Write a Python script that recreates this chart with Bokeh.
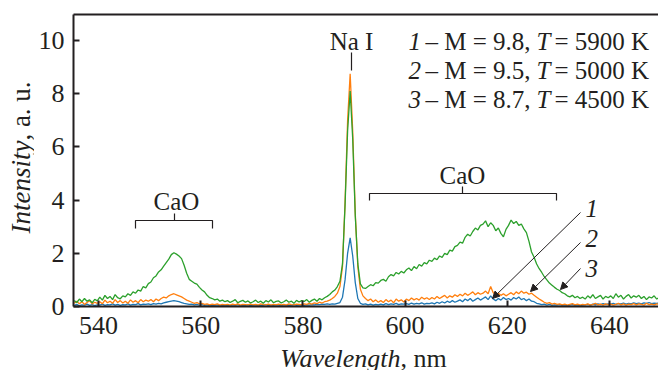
import math
import numpy as np
from bokeh.plotting import figure
from bokeh.layouts import row, column
from bokeh.models import Label, Arrow, NormalHead, Range1d, FixedTicker, LinearAxis
from bokeh.embed import file_html
from bokeh.resources import INLINE

# ---------------- data ----------------
wavelength = np.round(np.arange(535.25, 650.0, 0.5), 2)  # nm, 230 points

# series 1 (blue): M = 9.8, T = 5900 K
intensity_1 = [
    0.04, 0.08, 0.03, 0.06, 0.05, 0.09, 0.04, 0.07, 0.03, 0.06,
    0.05, 0.09, 0.04, 0.07, 0.06, 0.10, 0.05, 0.08, 0.04, 0.07,
    0.06, 0.10, 0.05, 0.08, 0.07, 0.11, 0.06, 0.09, 0.08, 0.10,
    0.07, 0.11, 0.09, 0.12, 0.10, 0.14, 0.16, 0.18, 0.20, 0.22,
    0.20, 0.18, 0.15, 0.12, 0.10, 0.08, 0.09, 0.06, 0.08, 0.05,
    0.07, 0.04, 0.06, 0.03, 0.05, 0.04, 0.06, 0.03, 0.05, 0.04,
    0.05, 0.03, 0.06, 0.04, 0.07, 0.03, 0.05, 0.04, 0.06, 0.03,
    0.04, 0.06, 0.03, 0.05, 0.04, 0.07, 0.03, 0.05, 0.04, 0.06,
    0.05, 0.03, 0.06, 0.04, 0.05, 0.03, 0.07, 0.04, 0.05, 0.06,
    0.04, 0.06, 0.05, 0.07, 0.06, 0.08, 0.07, 0.09, 0.08, 0.10,
    0.08, 0.10, 0.09, 0.12, 0.15, 0.35, 1.00, 2.00, 2.58, 1.90,
    0.90, 0.30, 0.12, 0.08, 0.10, 0.06, 0.09, 0.05, 0.08, 0.06,
    0.09, 0.06, 0.11, 0.07, 0.10, 0.08, 0.12, 0.07, 0.10, 0.09,
    0.11, 0.08, 0.13, 0.09, 0.12, 0.10, 0.14, 0.09, 0.12, 0.11,
    0.14, 0.10, 0.16, 0.12, 0.18, 0.13, 0.20, 0.15, 0.22, 0.16,
    0.20, 0.25, 0.18, 0.28, 0.22, 0.30, 0.20, 0.26, 0.32, 0.24,
    0.30, 0.36, 0.26, 0.40, 0.28, 0.22, 0.30, 0.24, 0.34, 0.26,
    0.30, 0.24, 0.34, 0.28, 0.36, 0.26, 0.30, 0.22, 0.28, 0.20,
    0.18, 0.12, 0.10, 0.07, 0.09, 0.05, 0.08, 0.04, 0.06, 0.05,
    0.07, 0.04, 0.06, 0.03, 0.05, 0.07, 0.04, 0.06, 0.03, 0.05,
    0.06, 0.08, 0.05, 0.09, 0.06, 0.10, 0.07, 0.11, 0.08, 0.10,
    0.09, 0.12, 0.08, 0.11, 0.10, 0.13, 0.09, 0.12, 0.10, 0.14,
    0.11, 0.13, 0.10, 0.14, 0.12, 0.15, 0.11, 0.13, 0.12, 0.14,
]

# series 2 (orange): M = 9.5, T = 5000 K
intensity_2 = [
    0.12, 0.20, 0.10, 0.18, 0.08, 0.15, 0.22, 0.10, 0.16, 0.12,
    0.18, 0.10, 0.24, 0.14, 0.20, 0.12, 0.26, 0.15, 0.22, 0.13,
    0.20, 0.12, 0.25, 0.16, 0.22, 0.14, 0.26, 0.18, 0.24, 0.20,
    0.26, 0.18, 0.28, 0.22, 0.30, 0.35, 0.32, 0.40, 0.45, 0.48,
    0.44, 0.40, 0.36, 0.30, 0.24, 0.20, 0.16, 0.12, 0.15, 0.10,
    0.12, 0.08, 0.10, 0.06, 0.09, 0.07, 0.10, 0.05, 0.08, 0.06,
    0.08, 0.05, 0.09, 0.06, 0.10, 0.05, 0.08, 0.07, 0.06, 0.09,
    0.06, 0.08, 0.05, 0.10, 0.07, 0.06, 0.09, 0.05, 0.08, 0.06,
    0.09, 0.06, 0.08, 0.05, 0.10, 0.07, 0.06, 0.09, 0.08, 0.06,
    0.10, 0.08, 0.12, 0.09, 0.14, 0.11, 0.16, 0.13, 0.18, 0.20,
    0.24, 0.30, 0.38, 0.50, 0.75, 1.50, 3.90, 7.00, 8.75, 6.60,
    3.50, 1.50, 0.65, 0.40, 0.30, 0.22, 0.28, 0.18, 0.25, 0.16,
    0.22, 0.15, 0.26, 0.18, 0.24, 0.14, 0.28, 0.20, 0.25, 0.17,
    0.28, 0.22, 0.32, 0.25, 0.30, 0.24, 0.35, 0.28, 0.33, 0.26,
    0.34, 0.28, 0.38, 0.30, 0.36, 0.42, 0.32, 0.40, 0.35, 0.44,
    0.38, 0.46, 0.40, 0.50, 0.42, 0.48, 0.55, 0.44, 0.52, 0.46,
    0.50, 0.58, 0.48, 0.75, 0.52, 0.45, 0.50, 0.42, 0.48, 0.40,
    0.46, 0.52, 0.44, 0.55, 0.48, 0.58, 0.50, 0.54, 0.46, 0.50,
    0.42, 0.35, 0.28, 0.22, 0.16, 0.12, 0.15, 0.09, 0.12, 0.08,
    0.10, 0.06, 0.09, 0.05, 0.08, 0.11, 0.06, 0.09, 0.05, 0.08,
    0.06, 0.10, 0.05, 0.08, 0.12, 0.06, 0.09, 0.05, 0.10, 0.07,
    0.09, 0.05, 0.08, 0.12, 0.06, 0.10, 0.05, 0.09, 0.07, 0.11,
    0.06, 0.10, 0.08, 0.05, 0.12, 0.07, 0.09, 0.06, 0.10, 0.08,
]

# series 3 (green): M = 8.7, T = 4500 K
intensity_3 = [
    0.22, 0.15, 0.28, 0.18, 0.30, 0.20, 0.25, 0.14, 0.27, 0.21,
    0.35, 0.24, 0.42, 0.30, 0.38, 0.26, 0.45, 0.33, 0.29, 0.40,
    0.36, 0.48, 0.42, 0.55, 0.50, 0.62, 0.58, 0.75, 0.70, 0.86,
    0.92, 1.08, 1.15, 1.30, 1.38, 1.52, 1.65, 1.78, 1.95, 2.02,
    1.97, 1.90, 1.80, 1.55, 1.25, 1.02, 0.95, 0.88, 0.84, 0.72,
    0.62, 0.55, 0.42, 0.33, 0.30, 0.25, 0.28, 0.20, 0.24, 0.18,
    0.22, 0.15, 0.20, 0.26, 0.14, 0.19, 0.23, 0.16, 0.21, 0.13,
    0.18, 0.24, 0.15, 0.20, 0.12, 0.22, 0.17, 0.25, 0.14, 0.19,
    0.21, 0.13, 0.18, 0.24, 0.16, 0.20, 0.12, 0.23, 0.17, 0.22,
    0.19, 0.26, 0.16, 0.23, 0.28, 0.20, 0.30, 0.25, 0.33, 0.38,
    0.45, 0.55, 0.62, 0.75, 0.95, 1.60, 3.80, 6.60, 8.10, 6.30,
    3.40, 1.60, 0.85, 0.70, 0.68, 0.75, 0.82, 0.78, 0.90, 0.88,
    0.98, 1.02, 0.95, 1.12, 1.20, 1.15, 1.28, 1.22, 1.32, 1.26,
    1.38, 1.45, 1.35, 1.50, 1.42, 1.58, 1.52, 1.65, 1.60, 1.74,
    1.70, 1.82, 1.76, 1.90, 1.85, 2.00, 1.95, 2.12, 2.08, 2.25,
    2.30, 2.42, 2.38, 2.60, 2.72, 2.65, 2.82, 2.95, 2.88, 3.05,
    3.10, 3.22, 3.00, 3.15, 3.05, 2.85, 2.95, 2.75, 2.62, 2.90,
    3.05, 3.25, 3.12, 3.20, 3.05, 3.10, 2.92, 2.78, 2.45, 2.05,
    1.85, 1.60, 1.42, 1.28, 1.12, 1.00, 0.88, 0.80, 0.72, 0.65,
    0.60, 0.52, 0.48, 0.40, 0.36, 0.42, 0.33, 0.38, 0.30, 0.35,
    0.28, 0.40, 0.32, 0.45, 0.30, 0.36, 0.42, 0.28, 0.38, 0.33,
    0.40, 0.30, 0.48, 0.35, 0.42, 0.28, 0.38, 0.45, 0.32, 0.40,
    0.35, 0.42, 0.30, 0.38, 0.26, 0.36, 0.32, 0.40, 0.28, 0.34,
]

series_colors = ["#1f77b4", "#ff7f0e", "#2ca02c"]
x_ticks = [540, 560, 580, 600, 620, 640]
y_ticks = [0, 2, 4, 6, 8, 10]
legend_rows = [("1", "\u2013 M = 9.8,", "T", "= 5900 K"),
               ("2", "\u2013 M = 9.5,", "T", "= 5000 K"),
               ("3", "\u2013 M = 8.7,", "T", "= 4500 K")]

# ---------------- layout constants ----------------
X0, X1, Y0, Y1 = 535.1, 649.6, 0.0, 10.98
INK = "#231f20"
FONT = "Times New Roman"
W_LEFT, H_MAIN, H_BOTTOM = 34, 345, 25
SHIFT = 7  # rendered alphabetic baseline sits this many px below the anchor

# ---------------- main figure ----------------
p = figure(width=658 - W_LEFT, height=H_MAIN, output_backend="svg", toolbar_location=None,
           x_range=Range1d(X0, X1), y_range=Range1d(Y0, Y1),
           min_border_left=73 - W_LEFT, min_border_right=0, min_border_top=14,
           min_border_bottom=H_MAIN - 306)
p.grid.visible = False
p.background_fill_color = "white"
p.border_fill_color = "white"
p.outline_line_color = None

xa = p.xaxis[0]
ya = p.yaxis[0]
for ax, ticks in ((xa, x_ticks), (ya, y_ticks)):
    ax.ticker = FixedTicker(ticks=ticks)
    ax.major_label_text_font = FONT
    ax.major_label_text_font_size = "26px"
    ax.major_label_text_color = INK
    ax.axis_line_color = INK
    ax.axis_line_width = 2
    ax.major_tick_line_color = INK
    ax.major_tick_line_width = 2
    ax.major_tick_in = 6
    ax.major_tick_out = 0
    ax.minor_tick_line_color = None
xa.major_label_standoff = 10
ya.major_label_standoff = 9

top_axis = LinearAxis(ticker=FixedTicker(ticks=[]), major_label_text_font_size="0px",
                      major_tick_in=0, major_tick_out=0, major_label_standoff=0,
                      axis_line_color=INK, axis_line_width=2, minor_tick_line_color=None)
p.add_layout(top_axis, "above")

for vals, col in zip([intensity_1, intensity_2, intensity_3], series_colors):
    p.line(wavelength, vals, line_color=col, line_width=1.3)

# helpers: reference pixel position -> data coordinates (frame 73..658 x 14..306)
def X(px):
    return X0 + (px - 73) * (X1 - X0) / 585.0

def Y(py):
    return Y1 - (py - 14) * (Y1 - Y0) / 292.0

def lab(target, text, x, y, size="25px", style="normal", align="left", angle=0.0):
    target.add_layout(Label(x=x, y=y, text=text, text_font=FONT,
                            text_font_size=size, text_font_style=style,
                            text_color=INK, text_align=align,
                            text_baseline="alphabetic", angle=angle))

def plab(text, px, py, **kw):
    # place by the reference picture's pixel position of the text baseline
    lab(p, text, X(px), Y(py - SHIFT), **kw)

# legend text block
for i, (num, mid, t, end) in enumerate(legend_rows):
    by = 48 + 29 * i
    plab(num, 408, by, style="italic")
    plab(mid, 425, by)
    plab(t, 536, by, style="italic")
    plab(end, 554, by)

# band annotations
plab("CaO", 176, 208, align="center")
plab("CaO", 462, 182, align="center")
plab("Na I", 351, 48, align="center")

brackets_x = [[X(135), X(135), X(212), X(212)], [X(174), X(174)],
              [X(369), X(369), X(556), X(556)], [X(462), X(462)],
              [X(351), X(351)]]
brackets_y = [[Y(228), Y(220), Y(220), Y(228)], [Y(220), Y(213)],
              [Y(200), Y(193), Y(193), Y(200)], [Y(193), Y(186)],
              [Y(52), Y(70)]]
p.multi_line(brackets_x, brackets_y, line_color=INK, line_width=1.2)

# numbered arrows
arrow_pts = [((580, 212), (492, 298)), ((580, 242), (530, 291)), ((580, 268), (560, 289))]
for i, ((sx, sy), (ex, ey)) in enumerate(arrow_pts):
    p.add_layout(Arrow(end=NormalHead(size=7, fill_color=INK, line_color=INK, line_width=1),
                       x_start=X(sx), y_start=Y(sy), x_end=X(ex), y_end=Y(ey),
                       line_color=INK, line_width=1))
    plab(str(i + 1), 585, 215 + 30 * i, style="italic")

# ---------------- axis-title strips (mixed italic / upright text) ----------------
def strip(w, h):
    f = figure(width=w, height=h, output_backend="svg", toolbar_location=None,
               x_range=Range1d(0, w), y_range=Range1d(0, h),
               x_axis_location=None, y_axis_location=None,
               min_border=0, min_border_left=0, min_border_right=0,
               min_border_top=0, min_border_bottom=0)
    f.grid.visible = False
    f.outline_line_color = None
    f.background_fill_color = "white"
    f.border_fill_color = "white"
    return f

left = strip(W_LEFT, H_MAIN)
lab(left, "Intensity", 27 - SHIFT, H_MAIN - 149, size="27px", style="italic",
    align="right", angle=math.pi / 2)
lab(left, ", a. u.", 27 - SHIFT, H_MAIN - 149, size="27px", align="left",
    angle=math.pi / 2)

bottom = strip(658, H_BOTTOM)
x_title_base = 365
lab(bottom, "Wavelength", 400, H_BOTTOM - (x_title_base - SHIFT - H_MAIN), size="26px",
    style="italic", align="right")
lab(bottom, ", nm", 400, H_BOTTOM - (x_title_base - SHIFT - H_MAIN), size="26px",
    align="left")

layout = column(row(left, p, spacing=0), bottom, spacing=0)
open("out.html", "w").write(file_html(layout, INLINE))
